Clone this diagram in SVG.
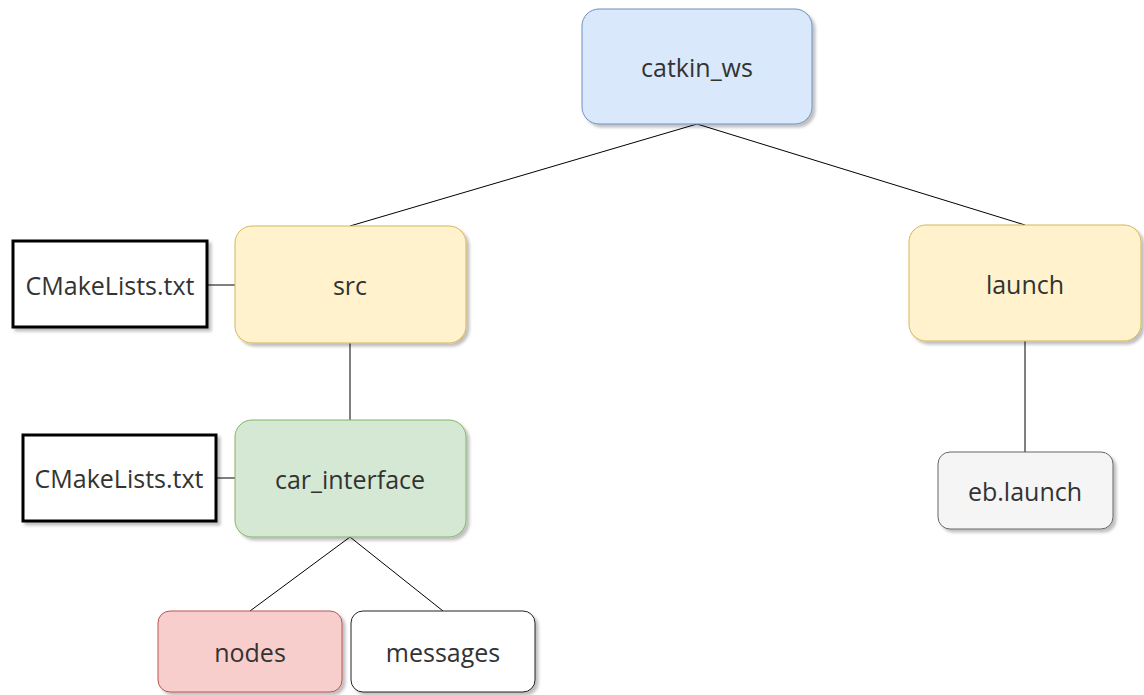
<svg xmlns="http://www.w3.org/2000/svg" width="1144" height="695" viewBox="0 0 1144 695">
<defs>
<filter id="sh" x="-10%" y="-10%" width="130%" height="130%">
<feDropShadow dx="3" dy="3" stdDeviation="1.5" flood-color="#000" flood-opacity="0.25"/>
</filter>
</defs>
<style>
.n{filter:url(#sh);stroke-width:1}
.t{font-family:"Open Sans","Noto Sans",sans-serif;font-size:25px;fill:#333;text-anchor:middle;dominant-baseline:central}
.blue{fill:#dae8fc;stroke:#6c8ebf}
.yel{fill:#fff2cc;stroke:#d6b656}
.grn{fill:#d5e8d4;stroke:#82b366}
.red{fill:#f8cecc;stroke:#b85450}
.gry{fill:#f5f5f5;stroke:#666}
.wht{fill:#fff;stroke:#222}
.box{fill:#fff;stroke:#000;stroke-width:3}
.c line{stroke:#000;stroke-width:1}
</style>
<rect width="1144" height="695" fill="#fff"/>
<g class="c" id="connectors">
<line x1="697" y1="124" x2="350" y2="226"/>
<line x1="697" y1="124" x2="1025" y2="225"/>
<line x1="207" y1="285" x2="235" y2="285"/>
<line x1="350" y1="343" x2="350" y2="420"/>
<line x1="216" y1="478" x2="235" y2="478"/>
<line x1="350" y1="537" x2="250" y2="611"/>
<line x1="350" y1="537" x2="443" y2="611"/>
<line x1="1025" y1="341" x2="1025" y2="452"/>
</g>
<g id="catkin_ws"><rect class="n blue" x="582" y="9" width="230" height="115" rx="17"/><text class="t" x="697" y="67">catkin_ws</text></g>
<g id="src"><rect class="n yel" x="235" y="226" width="231" height="117" rx="17"/><text class="t" x="350" y="285">src</text></g>
<g id="launch"><rect class="n yel" x="909" y="225" width="232" height="116" rx="17"/><text class="t" x="1025" y="284">launch</text></g>
<g id="cmake1"><rect class="n box" x="13" y="241" width="194" height="86"/><text class="t" x="110" y="285">CMakeLists.txt</text></g>
<g id="car_interface"><rect class="n grn" x="235" y="420" width="231" height="117" rx="17"/><text class="t" x="350" y="479">car_interface</text></g>
<g id="cmake2"><rect class="n box" x="23" y="435" width="193" height="86"/><text class="t" x="119" y="478">CMakeLists.txt</text></g>
<g id="eb_launch"><rect class="n gry" x="938" y="452" width="175" height="77" rx="12"/><text class="t" x="1025" y="491">eb.launch</text></g>
<g id="nodes"><rect class="n red" x="158" y="611" width="184" height="81" rx="12"/><text class="t" x="250" y="652">nodes</text></g>
<g id="messages"><rect class="n wht" x="351" y="611" width="184" height="81" rx="12"/><text class="t" x="443" y="652">messages</text></g>
</svg>
